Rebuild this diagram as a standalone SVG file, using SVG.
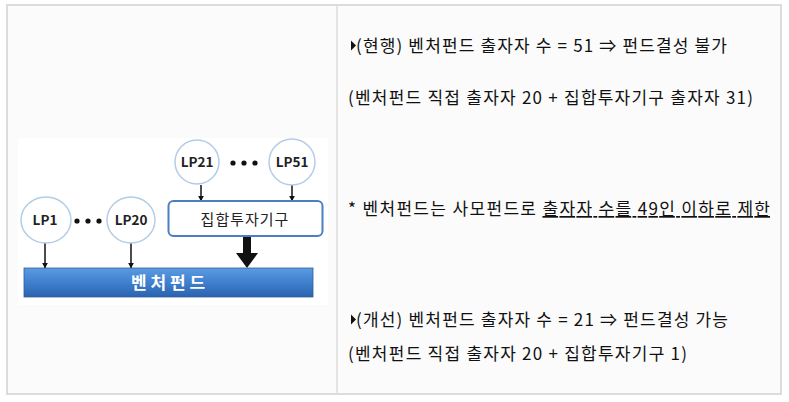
<svg xmlns="http://www.w3.org/2000/svg" width="789" height="402" viewBox="0 0 789 402">
<defs>
<linearGradient id="barGrad" x1="0" y1="0" x2="0" y2="1">
<stop offset="0" stop-color="#5b9be0"/>
<stop offset="0.5" stop-color="#3f80cf"/>
<stop offset="1" stop-color="#2b62ad"/>
</linearGradient>
<marker id="ah" viewBox="0 0 10 10" refX="9" refY="5" markerWidth="6" markerHeight="6" markerUnits="userSpaceOnUse" orient="auto">
<path d="M0,0 L10,5 L0,10 z" fill="#111"/>
</marker>
</defs>
<style>
.cell{fill:#fbfbfb;stroke:#dcdcdc;stroke-width:2}
.lp{fill:#fff;stroke:#b4cce6;stroke-width:1.5}
.lpt{font-family:"Noto Sans CJK KR","Noto Sans",sans-serif;font-size:13.5px;font-weight:bold;fill:#222;text-anchor:middle}
.dot{fill:#111}
.arrow{stroke:#111;stroke-width:1.5;fill:none;marker-end:url(#ah)}
.txt{font-family:"Noto Sans CJK KR","Noto Sans",sans-serif;font-size:17px;fill:#111}
</style>
<rect x="0" y="0" width="789" height="402" fill="#ffffff"/>
<rect class="cell" x="7" y="5" width="774" height="389"/>
<line x1="337" y1="5" x2="337" y2="394" stroke="#dcdcdc" stroke-width="1.5"/>
<rect x="18" y="138" width="310" height="167" fill="#ffffff"/>

<g id="connectors">
<line class="arrow" x1="45" y1="243" x2="45" y2="268"/>
<line class="arrow" x1="131" y1="243" x2="131" y2="268"/>
<line class="arrow" x1="201" y1="185" x2="201" y2="201"/>
<line class="arrow" x1="292" y1="185" x2="292" y2="201"/>
<path d="M243,237 L251,237 L251,253 L258,253 L247,268 L236,253 L243,253 z" fill="#111"/>
</g>

<g id="lp21"><circle class="lp" cx="197" cy="162" r="22"/><text class="lpt" x="197" y="167">LP21</text></g>
<g id="dots-top"><circle class="dot" cx="233" cy="163" r="2.6"/><circle class="dot" cx="244" cy="163" r="2.6"/><circle class="dot" cx="255" cy="163" r="2.6"/></g>
<g id="lp51"><circle class="lp" cx="292" cy="162" r="23"/><text class="lpt" x="292" y="167">LP51</text></g>
<g id="lp1"><ellipse class="lp" cx="46" cy="220" rx="25" ry="23"/><text class="lpt" x="45" y="225">LP1</text></g>
<g id="dots-left"><circle class="dot" cx="77" cy="221" r="2.6"/><circle class="dot" cx="88" cy="221" r="2.6"/><circle class="dot" cx="99" cy="221" r="2.6"/></g>
<g id="lp20"><ellipse class="lp" cx="131" cy="220" rx="24" ry="23"/><text class="lpt" x="131" y="225">LP20</text></g>
<g id="collective"><rect x="168.5" y="201" width="154" height="35" rx="5" fill="#fff" stroke="#4a7fc1" stroke-width="2"/><text class="lpt" x="245" y="225" style="font-weight:normal;font-size:15px;letter-spacing:1px">집합투자기구</text></g>
<g id="venture"><rect x="24" y="268" width="289" height="29" fill="url(#barGrad)" stroke="#2d5e9e" stroke-width="0.8"/><text x="168" y="289" style="font-family:'Noto Sans CJK KR',sans-serif;font-size:17px;font-weight:bold;fill:#fff;text-anchor:middle">벤 처 펀 드</text></g>

<g id="text">
<path d="M351,40.5 L356,45.5 L351,50.5 z" fill="#111"/>
<text class="txt" x="356" y="52" textLength="371" lengthAdjust="spacing">(현행) 벤처펀드 출자자 수 = 51 ⇒ 펀드결성 불가</text>
<text class="txt" x="348" y="104" textLength="405" lengthAdjust="spacing">(벤처펀드 직접 출자자 20 + 집합투자기구 출자자 31)</text>
<text class="txt" x="348" y="215" textLength="422" lengthAdjust="spacing">* 벤처펀드는 사모펀드로 <tspan text-decoration="underline">출자자 수를 49인 이하로 제한</tspan></text>
<path d="M351,314.5 L356,319.5 L351,324.5 z" fill="#111"/>
<text class="txt" x="356" y="326" textLength="372" lengthAdjust="spacing">(개선) 벤처펀드 출자자 수 = 21 ⇒ 펀드결성 가능</text>
<text class="txt" x="348" y="360" textLength="339" lengthAdjust="spacing">(벤처펀드 직접 출자자 20 + 집합투자기구 1)</text>
</g>
</svg>
